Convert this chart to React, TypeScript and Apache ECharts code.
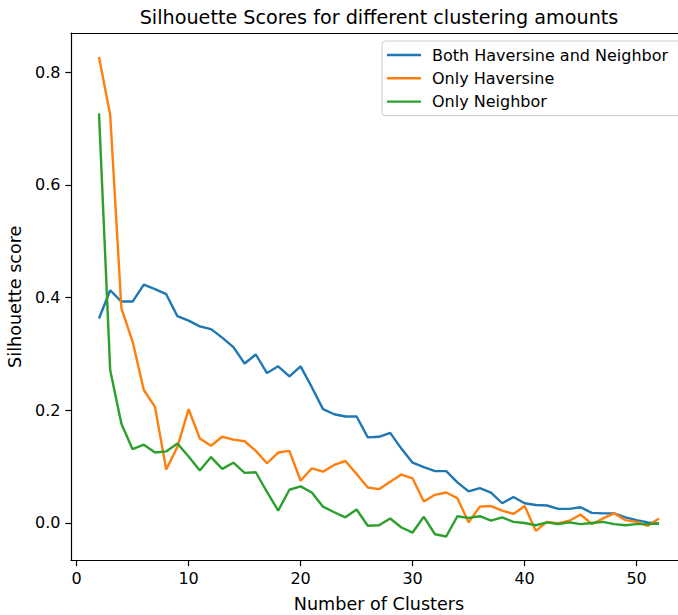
import React, { useEffect, useRef } from "react";
import * as echarts from "echarts";

const clusters: number[] = [2,3,4,5,6,7,8,9,10,11,12,13,14,15,16,17,18,19,20,21,22,23,24,25,26,27,28,29,30,31,32,33,34,35,36,37,38,39,40,41,42,43,44,45,46,47,48,49,50,51,52];

const bothHaversineNeighbor: number[] = [
  0.363, 0.413, 0.393, 0.393, 0.423, 0.415, 0.406, 0.367, 0.359, 0.349,
  0.344, 0.329, 0.312, 0.283, 0.299, 0.266, 0.278, 0.260, 0.278, 0.241,
  0.202, 0.193, 0.189, 0.189, 0.152, 0.153, 0.160, 0.132, 0.107, 0.099,
  0.092, 0.092, 0.072, 0.056, 0.062, 0.054, 0.035, 0.046, 0.035, 0.032,
  0.031, 0.025, 0.025, 0.028, 0.018, 0.017, 0.017, 0.010, 0.005, 0.001,
  -0.001,
];

const onlyHaversine: number[] = [
  0.827, 0.724, 0.381, 0.322, 0.236, 0.206, 0.095, 0.135, 0.202, 0.150,
  0.137, 0.153, 0.148, 0.145, 0.128, 0.106, 0.125, 0.128, 0.075, 0.097,
  0.091, 0.103, 0.110, 0.087, 0.063, 0.060, 0.073, 0.086, 0.079, 0.038,
  0.050, 0.054, 0.044, 0.001, 0.029, 0.030, 0.022, 0.016, 0.030, -0.014,
  0.002, -0.001, 0.004, 0.015, -0.002, 0.008, 0.017, 0.005, 0.002, -0.005,
  0.008,
];

const onlyNeighbor: number[] = [
  0.727, 0.271, 0.176, 0.131, 0.139, 0.125, 0.127, 0.141, 0.118, 0.093,
  0.117, 0.096, 0.107, 0.089, 0.090, 0.055, 0.022, 0.059, 0.065, 0.054,
  0.029, 0.019, 0.010, 0.024, -0.005, -0.004, 0.008, -0.008, -0.017, 0.011,
  -0.020, -0.024, 0.012, 0.009, 0.012, 0.004, 0.010, 0.002, 0.000, -0.004,
  0.001, -0.002, 0.001, -0.002, 0.000, 0.002, -0.002, -0.004, -0.002, -0.002,
  -0.001,
];

const seriesNames: string[] = ["Both Haversine and Neighbor", "Only Haversine", "Only Neighbor"];
const seriesColors: string[] = ["#1f77b4", "#ff7f0e", "#2ca02c"];
const xTicks: number[] = [0, 10, 20, 30, 40, 50];
const yTicks: number[] = [0, 0.2, 0.4, 0.6, 0.8];

const X_MIN = -0.5;
const X_MAX = 54.5;
const Y_MIN = -0.0666;
const Y_MAX = 0.8696;

const FONT = "DejaVu Sans";

export default function App() {
  const ref = useRef<HTMLDivElement>(null);

  useEffect(() => {
    if (!ref.current) return;
    const chart = echarts.init(ref.current, undefined, { renderer: "svg" });
    const allValues = [bothHaversineNeighbor, onlyHaversine, onlyNeighbor];
    const series = allValues.map((vals, i) => ({
      name: seriesNames[i],
      type: "line",
      xAxisIndex: 0,
      yAxisIndex: 0,
      data: clusters.map((c, j) => [c, vals[j]]),
      symbol: "none",
      showSymbol: false,
      lineStyle: { color: seriesColors[i], width: 2.4 },
      itemStyle: { color: seriesColors[i] },
      z: 3 + i,
    }));

    chart.setOption({
      animation: false,
      backgroundColor: "#ffffff",
      textStyle: { fontFamily: FONT },
      grid: {
        left: 71,
        right: -9,
        top: 33,
        bottom: 54.5,
        show: false,
        containLabel: false,
        outerBoundsMode: "none",
      },
      graphic: [
        {
          type: "text",
          x: 379,
          y: 17,
          style: {
            text: "Silhouette Scores for different clustering amounts",
            font: `19.2px "${FONT}"`,
            fill: "#000000",
            textAlign: "center",
            textVerticalAlign: "middle",
          },
        },
      ],
      legend: {
        orient: "vertical",
        left: 382,
        top: 41,
        padding: [6, 14, 6, 5],
        itemWidth: 34,
        itemHeight: 2.4,
        itemGap: 7.3,
        icon: "rect",
        backgroundColor: "rgba(255,255,255,0.8)",
        borderColor: "#cccccc",
        borderWidth: 1,
        borderRadius: 3,
        textStyle: { fontFamily: FONT, fontSize: 16, color: "#000000", lineHeight: 16, padding: [0, 0, 0, 6] },
        data: seriesNames,
      },
      xAxis: [
        {
          type: "value",
          position: "bottom",
          min: X_MIN,
          max: X_MAX,
          name: "Number of Clusters",
          nameLocation: "middle",
          nameGap: 34,
          nameTextStyle: { fontFamily: FONT, fontSize: 17.6, color: "#000000" },
          axisLine: { show: true, onZero: false, lineStyle: { color: "#000000", width: 1.2 } },
          axisTick: { show: true, length: 5.6, customValues: xTicks, lineStyle: { color: "#000000", width: 1.2 } },
          axisLabel: {
            customValues: xTicks,
            margin: 9.5,
            fontFamily: FONT,
            fontSize: 16,
            color: "#000000",
            formatter: (v: number) => String(Math.round(v)),
          },
          splitLine: { show: false },
        },
        {
          type: "value",
          position: "top",
          min: X_MIN,
          max: X_MAX,
          axisLine: { show: true, onZero: false, lineStyle: { color: "#000000", width: 1.2 } },
          axisTick: { show: false },
          axisLabel: { show: false },
          splitLine: { show: false },
        },
      ],
      yAxis: {
        type: "value",
        min: Y_MIN,
        max: Y_MAX,
        name: "Silhouette score",
        nameLocation: "middle",
        nameGap: 44,
        nameRotate: 90,
        nameTextStyle: { fontFamily: FONT, fontSize: 17.6, color: "#000000" },
        axisLine: { show: true, onZero: false, lineStyle: { color: "#000000", width: 1.2 } },
        axisTick: { show: true, length: 5.6, customValues: yTicks, lineStyle: { color: "#000000", width: 1.2 } },
        axisLabel: {
          customValues: yTicks,
          margin: 10.5,
          fontFamily: FONT,
          fontSize: 16,
          color: "#000000",
          formatter: (v: number) => v.toFixed(1),
        },
        splitLine: { show: false },
      },
      series,
    });

    return () => {
      chart.dispose();
    };
  }, []);

  return (
    <div
      ref={ref}
      style={{ position: "absolute", left: 0, top: 0, width: 678, height: 615, overflow: "hidden" }}
    />
  );
}
